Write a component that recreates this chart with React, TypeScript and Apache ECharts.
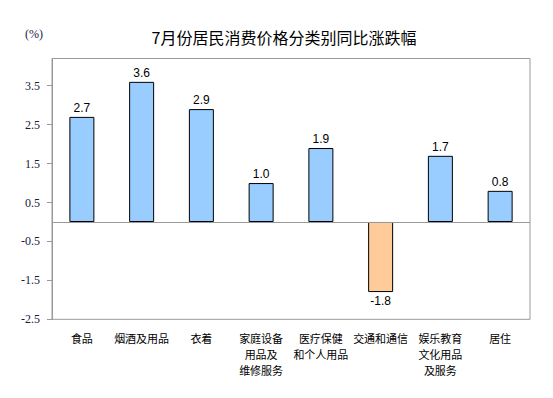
import React, { useEffect, useRef } from "react";
import * as echarts from "echarts";

const categories = [
  "食品",
  "烟酒及用品",
  "衣着",
  "家庭设备\n用品及\n维修服务",
  "医疗保健\n和个人用品",
  "交通和通信",
  "娱乐教育\n文化用品\n及服务",
  "居住",
];
const values = [2.7, 3.6, 2.9, 1.0, 1.9, -1.8, 1.7, 0.8];
const yTicks = [-2.5, -1.5, -0.5, 0.5, 1.5, 2.5, 3.5];
const titleText = "7月份居民消费价格分类别同比涨跌幅";
const unitText = "(%)";

export default function App() {
  const ref = useRef<HTMLDivElement>(null);
  useEffect(() => {
    if (!ref.current) return;
    const chart = echarts.init(ref.current, null, { renderer: "svg" });
    chart.setOption({
      animation: false,
      backgroundColor: "#ffffff",
      title: {
        text: titleText,
        left: 279,
        top: 24,
        textAlign: "center",
        textStyle: {
          fontFamily: "Noto Sans CJK SC",
          fontSize: 16,
          fontWeight: "normal",
          color: "#000",
        },
      },
      graphic: [
        {
          type: "text",
          left: 25,
          top: 28,
          style: {
            text: unitText,
            font: "12px 'Liberation Serif'",
            fill: "#1a1a4a",
          },
        },
      ],
      grid: {
        left: 52,
        right: 23,
        top: 58.5,
        bottom: 78.7,
        show: true,
        borderColor: "#999",
        borderWidth: 1,
        containLabel: false,
      },
      xAxis: {
        type: "category",
        data: categories,
        axisLine: { show: false, onZero: false },
        axisTick: { show: false },
        axisLabel: {
          margin: 11,
          interval: 0,
          fontFamily: "Noto Sans CJK SC",
          fontSize: 11,
          lineHeight: 16,
          color: "#000",
          align: "center",
        },
      },
      yAxis: {
        type: "value",
        min: -2.5,
        max: 4.2,
        splitLine: { show: false },
        axisLine: { show: true, lineStyle: { color: "#999" } },
        axisTick: {
          show: true,
          length: 5,
          lineStyle: { color: "#999" },
          customValues: yTicks,
        },
        axisLabel: {
          margin: 12,
          customValues: yTicks,
          fontFamily: "Liberation Serif",
          fontSize: 12,
          color: "#1a1a3a",
          formatter: (v: number) => String(v),
        },
      },
      series: [
        {
          type: "bar",
          barWidth: 25,
          data: values.map((v) => ({
            value: v,
            itemStyle: {
              color: v >= 0 ? "#99CCFF" : "#FFCC99",
              borderColor: "#000",
              borderWidth: 1,
            },
            label: {
              show: true,
              position: v >= 0 ? "top" : "bottom",
              distance: 3,
              formatter: v.toFixed(1),
              fontFamily: "Liberation Sans",
              fontSize: 12,
              color: "#000",
            },
          })),
          markLine: {
            silent: true,
            symbol: "none",
            label: { show: false },
            lineStyle: { color: "#999", type: "solid", width: 1 },
            data: [{ yAxis: 0 }],
          },
        },
      ],
    });
    return () => chart.dispose();
  }, []);
  return (
    <div
      ref={ref}
      style={{ position: "absolute", left: 0, top: 0, width: 553, height: 398 }}
    />
  );
}
